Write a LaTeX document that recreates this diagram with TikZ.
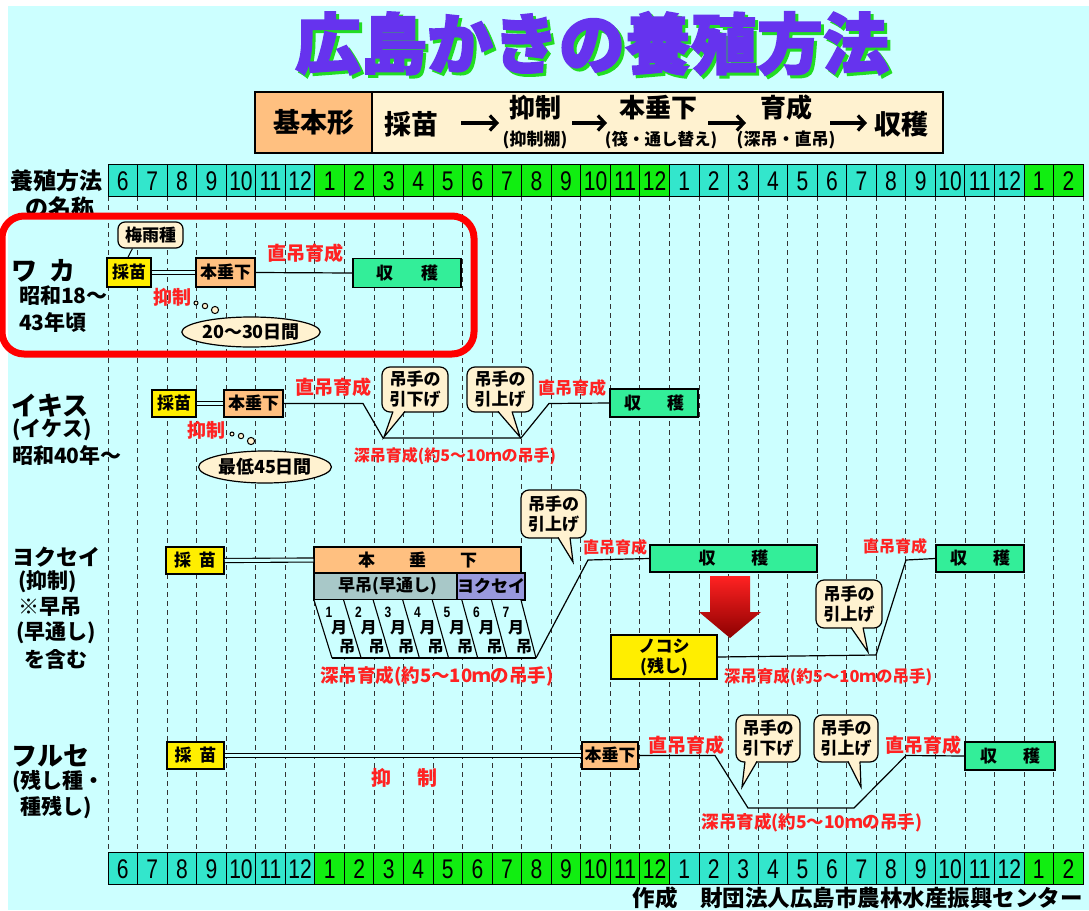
\documentclass[tikz,border=0pt]{standalone}
\usepackage{fontspec}
\setmainfont{Noto Sans CJK JP}
\newfontfamily\numfont{Liberation Sans}
\newfontfamily\titlefont{Noto Sans CJK JP}[BoldFeatures={FakeBold=2.5}]
\usetikzlibrary{shapes.geometric,arrows.meta,calc}
\definecolor{bg}{HTML}{CCFFFF}
\definecolor{mcyan}{HTML}{33E6CC}
\definecolor{mgreen}{HTML}{11EE11}
\definecolor{yel}{HTML}{FFEE00}
\definecolor{ora}{HTML}{FFC080}
\definecolor{grn}{HTML}{33EE99}
\definecolor{cream}{HTML}{FFF2D0}
\definecolor{redt}{HTML}{FF2222}
\definecolor{grayb}{HTML}{A8C8C8}
\definecolor{lav}{HTML}{9999DD}
\definecolor{titlec}{HTML}{6633EE}
\definecolor{shadowc}{HTML}{22DD22}
\newcommand{\fs}[1]{\fontsize{#1}{#1}\selectfont}
\newcommand{\fsb}[2]{\fontsize{#1}{#2}\selectfont}
\tikzset{
  box/.style={draw=black, line width=1.5pt, inner sep=0pt, font=\bfseries\fs{17}},
  seedbox/.style={box, fill=yel},
  honbox/.style={box, fill=ora},
  harbox/.style={box, fill=grn},
  rlab/.style={text=redt, inner sep=0pt, font=\bfseries\fs{19}},
  rlabs/.style={text=redt, inner sep=0pt, font=\bfseries\fs{16}},
  lab/.style={inner sep=0pt, font=\bfseries\fs{21}, anchor=west},
  biglab/.style={inner sep=0pt, font=\bfseries\fs{26}, anchor=west},
  bub/.style={draw, fill=cream, rounded corners=8pt, line width=1.2pt, align=center, inner sep=0pt, font=\bfseries\fsb{17}{20}},
  dbl/.style={double=bg, double distance=3pt, line width=1.1pt},
  conn/.style={line width=1.2pt},
  cell/.style={draw=black, line width=1pt},
  dline/.style={dash pattern=on 5pt off 4pt, line width=0.9pt, black!80},
  ell/.style={ellipse, draw, fill=cream, line width=1.2pt, inner sep=0pt, font=\bfseries\fs{18}},
  bubl/.style={draw, fill=cream, line width=1pt},
  tailfill/.style={fill=cream},
  taildraw/.style={line width=1.2pt},
  flow/.style={line width=3.8pt, -{Straight Barb[length=7pt,width=15pt,line width=3.2pt]}},
}
\begin{document}
\begin{tikzpicture}[x=1pt,y=-1pt]
\useasboundingbox (0,0) rectangle (1089,910);
\fill[bg] (8,6) rectangle (1089,910);
% title with shadow
\node[inner sep=0pt, font=\titlefont\bfseries\fs{66}] (tit) at (592,45)
  {\rlap{\raisebox{-3pt}{\hspace{3pt}\color{shadowc}広島かきの養殖方法}}\color{titlec}広島かきの養殖方法};
% basic form box
\node[draw, line width=1.5pt, fill=ora, minimum width=117pt, minimum height=61pt, inner sep=0pt, font=\bfseries\fs{27}] (kb1) at (313.5,122.5) {基本形};
\node[draw, line width=1.5pt, fill=cream, minimum width=571pt, minimum height=61pt, inner sep=0pt] (kb2) at (657.5,122.5) {};
\node[inner sep=0pt, font=\bfseries\fs{27}] (b1) at (411,124) {採苗};
\node[inner sep=0pt, font=\bfseries\fs{26}] (b2) at (535,108) {抑制};
\node[inner sep=0pt, font=\bfseries\fs{17}] (b2s) at (535,140) {(抑制棚)};
\node[inner sep=0pt, font=\bfseries\fs{26}] (b3) at (658,108) {本垂下};
\node[inner sep=0pt, font=\bfseries\fs{16.5}] (b3s) at (661,140) {(筏・通し替え)};
\node[inner sep=0pt, font=\bfseries\fs{26}] (b4) at (786,108) {育成};
\node[inner sep=0pt, font=\bfseries\fs{17}] (b4s) at (786,140) {(深吊・直吊)};
\node[inner sep=0pt, font=\bfseries\fs{27}] (b5) at (901,124) {収穫};
\coordinate (a1s) at (461,123); \coordinate (a1e) at (499,123);
\coordinate (a2s) at (572,123); \coordinate (a2e) at (607,123);
\coordinate (a3s) at (708,123); \coordinate (a3e) at (746,123);
\coordinate (a4s) at (830,123); \coordinate (a4e) at (867,123);
\foreach \s/\e in {a1s/a1e,a2s/a2e,a3s/a3e,a4s/a4e}
  \draw[flow] (\s) -- (\e);
% dashed grid
\foreach \i in {0,...,33}
  \draw[dline] ({108+29.55*\i},196) -- ({108+29.55*\i},852);
% month rows
\foreach \m [count=\i from 0] in {6,7,8,9,10,11,12,1,2,3,4,5,6,7,8,9,10,11,12,1,2,3,4,5,6,7,8,9,10,11,12,1,2} {
  \pgfmathsetmacro{\xa}{108+29.55*\i}
  \pgfmathsetmacro{\xb}{108+29.55*(\i+1)}
  \ifnum\i<7 \def\cc{mcyan}\else\ifnum\i<19 \def\cc{mgreen}\else\ifnum\i<31 \def\cc{mcyan}\else\def\cc{mgreen}\fi\fi\fi
  \draw[cell, fill=\cc] (\xa,164) rectangle (\xb,196);
  \draw[cell, fill=\cc] (\xa,852) rectangle (\xb,884);
  \node[inner sep=0pt, font=\numfont\fs{27}] at ({(\xa+\xb)/2},181) {\scalebox{0.78}[1]{\m}};
  \node[inner sep=0pt, font=\numfont\fs{27}] at ({(\xa+\xb)/2},869) {\scalebox{0.78}[1]{\m}};
}
% left labels
\node[lab, font=\bfseries\fs{23}] (l0) at (10,181) {養殖方法};
\node[lab, font=\bfseries\fs{23}] (l0b) at (25,208) {の名称};
\node[biglab] (l1) at (11,271) {ワ\hspace{12pt}カ};
\node[lab] (l1b) at (19,296) {昭和18～};
\node[lab] (l1c) at (19,322) {43年頃};
\node[biglab] (l2) at (11,406) {イキス};
\node[lab] (l2b) at (12,430) {(イケス)};
\node[lab] (l2c) at (12,455) {昭和40年～};
\node[biglab, font=\bfseries\fs{22}] (l3) at (12,557) {ヨクセイ};
\node[lab] (l3b) at (18,582) {(抑制)};
\node[lab] (l3c) at (18,607) {※早吊};
\node[lab] (l3d) at (16,633) {(早通し)};
\node[lab] (l3e) at (24,660) {を含む};
\node[biglab] (l4) at (11,756) {フルセ};
\node[lab] (l4b) at (12,782) {(残し種・};
\node[lab] (l4c) at (20,808) {種残し)};
% ===== Waka =====
\node[seedbox, minimum width=44pt, minimum height=29pt] (ws) at (129,272.5) {採苗};
\node[honbox, minimum width=59pt, minimum height=29pt] (wh) at (225.5,272.5) {本垂下};
\node[harbox, minimum width=108pt, minimum height=29pt] (wk) at (407,273) {収\hspace{28pt}穫};
\node[bub, rounded corners=7pt, minimum width=65pt, minimum height=26pt] (tsuyu) at (150.5,235) {梅雨種};
\draw[line width=1pt] ([xshift=15pt]tsuyu.south west) -- ([xshift=-1pt]ws.north);
\draw[dbl] (ws.east) -- (wh.west);
\draw[conn] (wh.east) -- (wk.west);
\node[rlab] (wr1) at (305,253) {直吊育成};
\node[rlab] (wr2) at (172,297) {抑制};
\draw[bubl] (196,303) circle (2);
\draw[bubl] (205,306) circle (2.7);
\draw[bubl] (215,310) circle (3.6);
\node[ell, minimum width=122pt, minimum height=30pt] (we) at (251,332) {20～30日間};
% ===== Ikisu =====
\node[seedbox, minimum width=44pt, minimum height=27pt] (is) at (174,403.5) {採苗};
\node[honbox, minimum width=59pt, minimum height=27pt] (ih) at (253.5,403.5) {本垂下};
\node[harbox, minimum width=88pt, minimum height=28pt] (ik) at (654,403) {収\hspace{26pt}穫};
\draw[dbl] (is.east) -- (ih.west);
\coordinate (ip1) at (363,403.5);
\coordinate (ip2) at (383,438);
\coordinate (ip3) at (521,438);
\coordinate (ip4) at (549,403.5);
\draw[conn] (ih.east) -- (ip1) -- (ip2) -- (ip3) -- (ip4) -- (ik.west);
\node[rlab] (ir1) at (333,387) {直吊育成};
\node[rlabs, font=\bfseries\fs{17}] (ir2) at (572,388) {直吊育成};
\node[bub, minimum width=66pt, minimum height=45pt] (ib1) at (415,389.5) {吊手の\\引下げ};
\node[bub, minimum width=66pt, minimum height=45pt] (ib2) at (500,389.5) {吊手の\\引上げ};
\coordinate (it1) at (384,437);
\coordinate (it2) at (520,437);
\fill[tailfill] (393,410) -- (it1) -- (405,410) -- cycle;
\draw[taildraw] (393,411.5) -- (it1) -- (405,411.5);
\fill[tailfill] (498,410) -- (it2) -- (512,410) -- cycle;
\draw[taildraw] (498,411.5) -- (it2) -- (512,411.5);
\node[rlab] (ir3) at (206,430) {抑制};
\draw[bubl] (232,434) circle (2);
\draw[bubl] (241,436) circle (2.7);
\draw[bubl] (251,441) circle (3.6);
\node[ell, minimum width=123pt, minimum height=32pt] (ie) at (265,467) {最低45日間};
\node[rlabs] (ir4) at (455,456) {深吊育成(約5～10ｍの吊手)};
% ===== Yokusei =====
\node[seedbox, minimum width=58pt, minimum height=27pt] (ys) at (195,560.5) {採\hspace{8pt}苗};
\node[honbox, minimum width=207pt, minimum height=26pt] (yh) at (417.5,560) {本\hspace{34pt}垂\hspace{34pt}下};
\node[box, fill=grayb, minimum width=147pt, minimum height=27pt] (yh2) at (387.5,586.5) {早吊(早通し)};
\node[box, fill=lav, minimum width=60pt, minimum height=27pt] (yh3) at (491,586.5) {ヨクセイ};
\draw[dbl] (ys.east) -- (yh.west);
\fill[bg] (314,600) -- (521,600) -- (536,658) -- (332,658) -- cycle;
\foreach \k in {0,...,7}
  \draw[line width=1.1pt] ({314+29.57*\k},600) -- ({332+29.14*\k},658);
\draw[line width=1.1pt] (332,658) -- (536,658);
\foreach \n [count=\k from 0] in {1,...,7} {
  \node[inner sep=0pt, font=\numfont\bfseries\fs{15}] at ({329+29.5*\k},612) {\scalebox{0.8}[1]{\n}};
  \node[inner sep=0pt, font=\bfseries\fs{16}] at ({339+29.5*\k},628) {月};
  \node[inner sep=0pt, font=\bfseries\fs{16}] at ({347+29.5*\k},647) {吊};
}
\coordinate (yp0) at (536,658);
\coordinate (yp1) at (588,560);
\node[harbox, minimum width=167pt, minimum height=27pt] (yk) at (733.5,558.5) {収\hspace{36pt}穫};
\draw[conn] (yp0) -- (yp1) -- (yk.west);
\node[bub, minimum width=65pt, minimum height=48pt] (yb1) at (553.5,514) {吊手の\\引上げ};
\coordinate (yt1) at (573,562);
\fill[tailfill] (558,536) -- (yt1) -- (570,536) -- cycle;
\draw[taildraw] (558,537.5) -- (yt1) -- (570,537.5);
\node[rlabs] (yr1) at (615,547) {直吊育成};
% big red arrow
\shade[top color=redt, bottom color=red!55!black] (710,576) -- (750,576) -- (750,612) -- (761,612) -- (730,638) -- (699,612) -- (710,612) -- cycle;
\node[box, fill=yel, minimum width=106pt, minimum height=44pt, align=center, font=\bfseries\fsb{17}{20}] (yn) at (664,657) {ノコシ\\(残し)};
\coordinate (yq1) at (876,655);
\coordinate (yq2) at (906,560);
\node[harbox, minimum width=88pt, minimum height=27pt] (yk2) at (980,558.5) {収\hspace{26pt}穫};
\draw[conn] (yn.east) -- (yq1) -- (yq2) -- (yk2.west);
\node[bub, minimum width=66pt, minimum height=48pt] (yb2) at (849,604) {吊手の\\引上げ};
\coordinate (yt2) at (868,652);
\fill[tailfill] (851,626) -- (yt2) -- (863,626) -- cycle;
\draw[taildraw] (851,627.5) -- (yt2) -- (863,627.5);
\node[rlabs] (yr2) at (895,546) {直吊育成};
\node[rlabs, font=\bfseries\fs{18.5}] (yr3) at (437,676) {深吊育成(約5～10ｍの吊手)};
\node[rlabs, font=\bfseries\fs{16.5}] (yr4) at (828,677) {深吊育成(約5～10ｍの吊手)};
% ===== Furuse =====
\node[seedbox, minimum width=57pt, minimum height=27pt] (fs) at (195.5,755.5) {採\hspace{8pt}苗};
\node[honbox, minimum width=56pt, minimum height=27pt] (fh) at (610,755.5) {本垂下};
\node[harbox, minimum width=90pt, minimum height=28pt] (fk) at (1010,756) {収\hspace{26pt}穫};
\draw[dbl] (fs.east) -- (fh.west);
\node[rlab, font=\bfseries\fs{20}] (fr1) at (404,778) {抑\hspace{26pt}制};
\coordinate (fp1) at (715,755.5);
\coordinate (fp2) at (748,808);
\coordinate (fp3) at (854,808);
\coordinate (fp4) at (906,755.5);
\draw[conn] (fh.east) -- (fp1) -- (fp2) -- (fp3) -- (fp4) -- (fk.west);
\node[rlab] (fr2) at (686,745) {直吊育成};
\node[rlab] (fr3) at (923,745) {直吊育成};
\node[bub, minimum width=64pt, minimum height=47pt] (fb1) at (768,738.5) {吊手の\\引下げ};
\node[bub, minimum width=64pt, minimum height=47pt] (fb2) at (846,738.5) {吊手の\\引上げ};
\coordinate (ft1) at (742,787);
\coordinate (ft2) at (861,787);
\fill[tailfill] (745,760) -- (ft1) -- (757,760) -- cycle;
\draw[taildraw] (745,761.5) -- (ft1) -- (757,761.5);
\fill[tailfill] (848,760) -- (ft2) -- (860,760) -- cycle;
\draw[taildraw] (848,761.5) -- (ft2) -- (860,761.5);
\node[rlabs, font=\bfseries\fs{17.5}] (fr4) at (812,823) {深吊育成(約5～10ｍの吊手)};
% credit
\node[inner sep=0pt, anchor=east, font=\bfseries\fs{22.5}] (credit) at (1083,898) {作成　財団法人広島市農林水産振興センター};
% red highlight frame
\draw[red, line width=7pt, rounded corners=22pt] (2,216) rectangle (474,354);
\end{tikzpicture}
\end{document}
